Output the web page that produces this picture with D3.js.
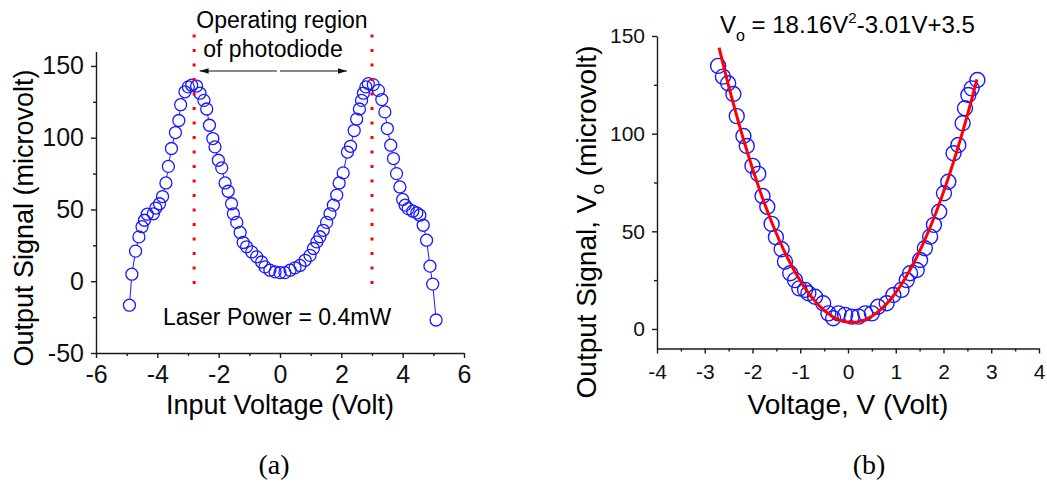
<!DOCTYPE html>
<html>
<head>
<meta charset="utf-8">
<script src="https://cdn.jsdelivr.net/npm/d3@7"></script>
<style>
  html, body { margin: 0; padding: 0; background: #fff; }
  svg { display: block; font-family: "Liberation Sans", Arial, sans-serif; }
  .axis path, .axis line { stroke: #1a1a1a; stroke-width: 1.4; }
  .axis text { fill: #111; font-family: "Liberation Sans", Arial, sans-serif; }
</style>
</head>
<body>
<svg id="chart" width="1047" height="483"></svg>
<script>
// ---- Panel (a): output signal vs input voltage ----
const inputVoltage = [
  -4.91, -4.83, -4.71, -4.60, -4.50, -4.42, -4.33, -4.13, -4.05, -3.93,
  -3.83, -3.72, -3.64, -3.54, -3.41, -3.30, -3.24, -3.10, -2.99, -2.88,
  -2.72, -2.61, -2.48, -2.39, -2.30, -2.19, -2.12, -2.01, -1.90, -1.79,
  -1.69, -1.58, -1.52, -1.41, -1.30, -1.20, -1.09, -0.92, -0.76, -0.60,
  -0.49, -0.33, -0.16, 0.00, 0.16, 0.33, 0.49, 0.65, 0.82, 0.98,
  1.09, 1.20, 1.30, 1.41, 1.52, 1.63, 1.74, 1.85, 1.93, 2.06,
  2.20, 2.30, 2.42, 2.50, 2.59, 2.66, 2.72, 2.80, 2.88, 3.04,
  3.21, 3.32, 3.42, 3.50, 3.61, 3.70, 3.80, 3.91, 4.00, 4.08,
  4.18, 4.33, 4.46, 4.56, 4.67, 4.78, 4.89, 4.98, 5.09
];
const outputSignal = [
  -16.7, 4.9, 21.0, 30.9, 38.0, 42.5, 46.7, 47.0, 51.0, 54.0,
  59.0, 68.5, 80.0, 92.5, 103.6, 112.0, 123.0, 132.0, 135.4, 136.6,
  136.0, 131.0, 126.0, 120.0, 108.7, 99.4, 93.6, 84.3, 79.0, 68.5,
  62.7, 54.0, 47.0, 41.0, 34.0, 27.0, 24.0, 20.4, 17.0, 13.4,
  10.0, 7.7, 6.5, 6.0, 6.0, 7.7, 9.3, 11.0, 14.6, 18.0,
  22.8, 27.4, 31.0, 35.5, 41.0, 47.0, 53.0, 60.0, 68.5, 75.5,
  90.0, 94.0, 105.0, 113.0, 120.0, 126.0, 131.0, 135.4, 137.7, 137.0,
  133.0, 126.6, 118.0, 106.4, 94.8, 85.5, 75.0, 65.7, 57.0, 53.0,
  50.6, 48.8, 47.6, 46.0, 39.0, 28.6, 10.5, -2.0, -27.0
];
const aXTicks = [-6, -4, -2, 0, 2, 4, 6];
const aXMinor = [-5, -3, -1, 1, 3, 5];
const aYTicks = [-50, 0, 50, 100, 150];
const aYMinor = [-25, 25, 75, 125];
const regionBounds = [-2.8, 3.0];      // dotted markers of the operating region
const regionSpan = [172, -5];          // their vertical extent (microvolt)
const arrowLevel = 146.5;              // height of the double arrow (microvolt)
const arrowLeft = [-0.1, -2.62];       // left arrow: tail, tip (volt)
const arrowRight = [0.0, 2.18];        // right arrow: tail, tip (volt)

// ---- Panel (b): central region with quadratic fit ----
const voltage = [
  -2.72, -2.62, -2.51, -2.40, -2.33, -2.19, -2.12, -2.00, -1.88, -1.79,
  -1.69, -1.60, -1.51, -1.39, -1.32, -1.21, -1.11, -1.02, -0.90, -0.83,
  -0.69, -0.52, -0.41, -0.31, -0.20, -0.06, 0.08, 0.22, 0.36, 0.50,
  0.63, 0.81, 0.95, 1.12, 1.23, 1.30, 1.44, 1.51, 1.61, 1.72,
  1.80, 1.91, 2.01, 2.10, 2.21, 2.31, 2.40, 2.45, 2.52, 2.59, 2.71
];
const signalVo = [
  134.7, 129.2, 125.8, 120.3, 109.0, 98.8, 93.7, 83.5, 79.4, 68.1,
  62.6, 53.8, 47.0, 40.8, 34.5, 28.5, 25.0, 20.8, 20.0, 18.3,
  16.5, 13.2, 8.0, 5.5, 8.0, 7.2, 6.3, 6.3, 8.0, 8.0,
  11.4, 13.2, 17.4, 20.0, 25.0, 28.5, 30.2, 35.3, 41.3, 47.3,
  53.3, 60.0, 69.5, 75.4, 90.0, 94.2, 105.3, 113.0, 119.8, 123.2, 127.5
];
const bXTicks = [-4, -3, -2, -1, 0, 1, 2, 3, 4];
const bXMinor = [-3.5, -2.5, -1.5, -0.5, 0.5, 1.5, 2.5, 3.5];
const bYTicks = [0, 50, 100, 150];
const bYMinor = [25, 75, 125];
// Fit: Vo = 18.16 V^2 - 3.01 V + 3.5
const fitA = 18.16, fitB = -3.01, fitC = 3.5;
const fitRange = [-2.7, 2.7];

const svg = d3.select("#chart");
const BLUE = "#1a1aff";
const RED = "#ff0000";
const plain = d => String(d);   // hyphen-minus for negative labels

// scales
const ax = d3.scaleLinear().domain([-6, 6]).range([96, 464]);
const ay = d3.scaleLinear().domain([-50, 160]).range([353, 51.6]);
const bx = d3.scaleLinear().domain([-4, 4]).range([657, 1039]);
const by = d3.scaleLinear().domain([-10, 150]).range([348.5, 36]);

function drawAxes(xs, ys, xT, xM, yT, yM, fontSize, xPad) {
  const yBase = ys.range()[0];
  const xBase = xs.range()[0];
  svg.append("g").attr("class", "axis").attr("transform", `translate(0,${yBase})`)
    .call(d3.axisBottom(xs).tickValues(xT).tickSizeInner(5).tickSizeOuter(0).tickPadding(xPad).tickFormat(plain))
    .call(g => g.selectAll("text").attr("font-size", fontSize));
  svg.append("g").attr("class", "axis").attr("transform", `translate(0,${yBase})`)
    .call(d3.axisBottom(xs).tickValues(xM).tickSizeInner(3).tickSizeOuter(0).tickFormat(""))
    .call(g => g.select(".domain").remove());
  svg.append("g").attr("class", "axis").attr("transform", `translate(${xBase},0)`)
    .call(d3.axisLeft(ys).tickValues(yT).tickSizeInner(5).tickSizeOuter(0).tickPadding(7).tickFormat(plain))
    .call(g => g.selectAll("text").attr("font-size", fontSize));
  svg.append("g").attr("class", "axis").attr("transform", `translate(${xBase},0)`)
    .call(d3.axisLeft(ys).tickValues(yM).tickSizeInner(3).tickSizeOuter(0).tickFormat(""))
    .call(g => g.select(".domain").remove());
}

// ===== Panel (a) =====
drawAxes(ax, ay, aXTicks, aXMinor, aYTicks, aYMinor, 25, 7);

const ptsA = inputVoltage.map((v, i) => [ax(v), ay(outputSignal[i])]);
const rA = 6;
// connecting line, interrupted at each symbol
let seg = "";
for (let i = 1; i < ptsA.length; i++) {
  const [x0, y0] = ptsA[i - 1], [x1, y1] = ptsA[i];
  const d = Math.hypot(x1 - x0, y1 - y0);
  if (d > 2 * rA + 1) {
    const ux = (x1 - x0) / d, uy = (y1 - y0) / d;
    seg += `M${x0 + ux * rA},${y0 + uy * rA}L${x1 - ux * rA},${y1 - uy * rA}`;
  }
}
svg.append("path").attr("d", seg).attr("stroke", BLUE).attr("stroke-width", 1).attr("fill", "none");

svg.append("g").selectAll("circle").data(ptsA).join("circle")
  .attr("cx", d => d[0]).attr("cy", d => d[1]).attr("r", rA)
  .attr("fill", "none").attr("stroke", BLUE).attr("stroke-width", 1.3);

// operating region markers
svg.append("g").selectAll("line").data(regionBounds).join("line")
  .attr("x1", d => ax(d)).attr("x2", d => ax(d))
  .attr("y1", ay(regionSpan[0])).attr("y2", ay(regionSpan[1]))
  .attr("stroke", RED).attr("stroke-width", 3).attr("stroke-dasharray", "3 11.5");

// double arrow
const defs = svg.append("defs");
defs.append("marker").attr("id", "head").attr("viewBox", "0 0 10 6")
  .attr("refX", 10).attr("refY", 3).attr("markerWidth", 9).attr("markerHeight", 5.4)
  .attr("markerUnits", "userSpaceOnUse").attr("orient", "auto")
  .append("path").attr("d", "M0,0L10,3L0,6Z").attr("fill", "#111");
[arrowLeft, arrowRight].forEach(a => {
  svg.append("line")
    .attr("x1", ax(a[0])).attr("x2", ax(a[1]))
    .attr("y1", ay(arrowLevel)).attr("y2", ay(arrowLevel))
    .attr("stroke", "#111").attr("stroke-width", 1.2).attr("marker-end", "url(#head)");
});

svg.append("text").attr("x", 282).attr("y", 28).attr("text-anchor", "middle")
  .attr("font-size", 23).text("Operating region");
svg.append("text").attr("x", 273).attr("y", 57).attr("text-anchor", "middle")
  .attr("font-size", 23).text("of photodiode");
svg.append("text").attr("x", 163).attr("y", 325).attr("font-size", 23)
  .text("Laser Power = 0.4mW");

svg.append("text").attr("x", 280).attr("y", 414).attr("text-anchor", "middle")
  .attr("font-size", 27).text("Input Voltage (Volt)");
svg.append("text").attr("transform", "translate(33,218) rotate(-90)").attr("text-anchor", "middle")
  .attr("font-size", 27).text("Output Signal (microvolt)");
svg.append("text").attr("x", 274).attr("y", 474).attr("text-anchor", "middle")
  .attr("font-family", "'Liberation Serif', 'Times New Roman', serif").attr("font-size", 28).text("(a)");

// ===== Panel (b) =====
drawAxes(bx, by, bXTicks, bXMinor, bYTicks, bYMinor, 21, 11);

svg.append("g").selectAll("circle").data(voltage.map((v, i) => [v, signalVo[i]])).join("circle")
  .attr("cx", d => bx(d[0])).attr("cy", d => by(d[1])).attr("r", 7.5)
  .attr("fill", "none").attr("stroke", BLUE).attr("stroke-width", 1.4);

const fitPts = d3.range(fitRange[0], fitRange[1] + 1e-9, 0.05).map(v => [v, fitA * v * v + fitB * v + fitC]);
svg.append("path")
  .attr("d", d3.line().x(d => bx(d[0])).y(d => by(d[1]))(fitPts))
  .attr("fill", "none").attr("stroke", RED).attr("stroke-width", 3);

// fit equation
const eq = svg.append("text").attr("x", 720).attr("y", 33).attr("font-size", 24);
eq.append("tspan").text("V");
eq.append("tspan").attr("font-size", 16).attr("dy", 8).text("o");
eq.append("tspan").attr("dy", -8).text(" = 18.16V");
eq.append("tspan").attr("font-size", 15).attr("dy", -10).text("2");
eq.append("tspan").attr("dy", 10).text("-3.01V+3.5");

svg.append("text").attr("x", 848).attr("y", 414).attr("text-anchor", "middle")
  .attr("font-size", 28).text("Voltage, V (Volt)");
const yt = svg.append("text").attr("transform", "translate(596,222) rotate(-90)")
  .attr("text-anchor", "middle").attr("font-size", 28);
yt.append("tspan").text("Output Signal, V");
yt.append("tspan").attr("font-size", 19).attr("dy", 8).text("o");
yt.append("tspan").attr("dy", -8).text(" (microvolt)");
svg.append("text").attr("x", 869).attr("y", 474).attr("text-anchor", "middle")
  .attr("font-family", "'Liberation Serif', 'Times New Roman', serif").attr("font-size", 28).text("(b)");
</script>
</body>
</html>
